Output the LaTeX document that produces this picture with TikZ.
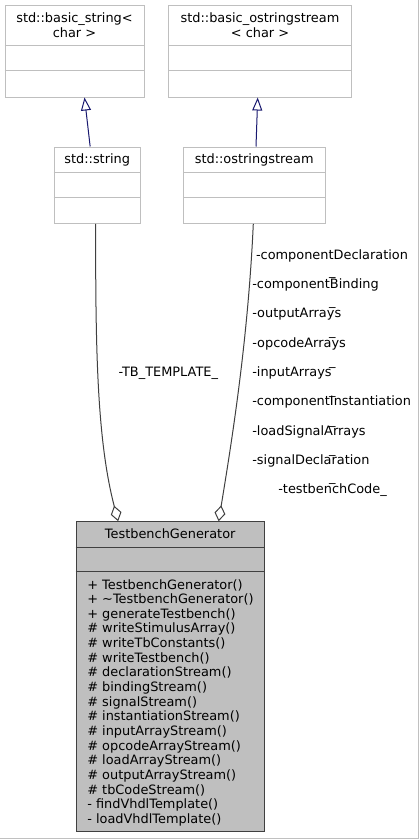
\documentclass[tikz,border=0pt]{standalone}
\usepackage{fontspec}
\setmainfont{DejaVu Sans}
\usetikzlibrary{arrows.meta,calc,positioning}

\definecolor{boxgrey}{HTML}{BFBFBF}
\definecolor{edgegrey}{HTML}{404040}
\definecolor{navyblue}{HTML}{191970}
\definecolor{framegrey}{HTML}{C0C0C0}

\newcommand{\dvs}{\fontsize{12.9}{15}\selectfont}

\begin{document}
\begin{tikzpicture}[x=1pt,y=-1pt,
  classbox/.style={draw=boxgrey, fill=white, line width=1pt, inner sep=0pt},
  mainbox/.style={draw=edgegrey, fill=boxgrey, line width=1pt, inner sep=0pt},
  txt/.style={font=\dvs, inner sep=0pt, outer sep=0pt},
  inherit/.style={draw=navyblue, line width=1pt, -{Triangle[open, length=13pt, width=10pt]}},
  aggreg/.style={draw=edgegrey, line width=1pt, -{Diamond[open, length=16pt, width=11pt]}}]

\useasboundingbox (0,0) rectangle (419,839);
\fill[white] (0,0) rectangle (419,839);
\draw[framegrey, line width=1pt] (0,838.5) -- (418.5,838.5) -- (418.5,0);

% class boxes
\node[classbox, minimum width=139pt, minimum height=91.3pt] (basestr) at (74.5,51.35) {};
\node[classbox, minimum width=182.6pt, minimum height=91.3pt] (baseoss) at (260,51.35) {};
\node[classbox, minimum width=86.3pt, minimum height=76.3pt] (str) at (97.15,185.15) {};
\node[classbox, minimum width=141.6pt, minimum height=76.3pt] (oss) at (254.5,185.15) {};
\node[mainbox, minimum width=188.3pt, minimum height=310pt] (tbgen) at (170.15,676.7) {};

\foreach \b/\d in {basestr/40, basestr/65.3, baseoss/40, baseoss/65.3, str/25.7, str/51.3, oss/25.7, oss/51.3}
  {\draw[boxgrey, line width=1pt] ($(\b.north west)+(0,\d)$) -- ($(\b.north east)+(0,\d)$);}
\foreach \d in {25.8, 50.6}
  {\draw[edgegrey, line width=1pt] ($(tbgen.north west)+(0,\d)$) -- ($(tbgen.north east)+(0,\d)$);}

% titles
\node[txt, anchor=base, align=center] (basestrT) at (74.5,37) {std::basic\_string<\\char >};
\node[txt, anchor=base, align=center] (baseossT) at (260,37) {std::basic\_ostringstream\\< char >};
\node[txt, anchor=base] (strT) at (97.2,163) {std::string};
\node[txt, anchor=base] (ossT) at (254.2,163) {std::ostringstream};
\node[txt, anchor=base] (tbgenT) at (170.2,538.8) {TestbenchGenerator};

% members
\foreach \m [count=\i] in {+ TestbenchGenerator(), + \textasciitilde TestbenchGenerator(),
  + generateTestbench(), \# writeStimulusArray(), \# writeTbConstants(), \# writeTestbench(),
  \# declarationStream(), \# bindingStream(), \# signalStream(), \# instantiationStream(),
  \# inputArrayStream(), \# opcodeArrayStream(), \# loadArrayStream(), \# outputArrayStream(),
  \# tbCodeStream(), - findVhdlTemplate(), - loadVhdlTemplate()}
  {\node[txt, anchor=base west] (m\i) at (87.3,{589+14.65*(\i-1)}) {\m};}

% inheritance
\draw[inherit] ([xshift=-7pt]str.north) -- ([xshift=10pt]basestr.south);
\draw[inherit] ([xshift=1.5pt]oss.north) -- ([xshift=-2.3pt]baseoss.south);

% aggregation
\draw[aggreg] ([xshift=-1.5pt]str.south) .. controls (95.5,350) and (97,440) .. ([xshift=-52pt]tbgen.north);
\draw[aggreg] ([xshift=-1.2pt]oss.south) .. controls (248,340) and (232,440) .. ([xshift=48.5pt]tbgen.north);

\node[txt, anchor=base] (tbtpl) at (168.3,376.4) {-TB\_TEMPLATE\_};
\foreach \lab/\xx/\yy [count=\i] in {-componentDeclaration/256/255, -componentBinding/252.3/283.3,
  -outputArrays/252.3/312.7, -opcodeArrays/252.3/342.7, -inputArrays/252.3/371.7,
  -componentInstantiation/252.3/400.7, -loadSignalArrays/252.3/430.7,
  -signalDeclaration/252.3/459.3, -testbenchCode\_/278.3/488.3}
  {\node[txt, anchor=base west] (lab\i) at (\xx,\yy+4.7) {\lab};}
\foreach \yy [count=\i] in {274, 304.3, 334.3, 364.3, 393.3, 422.7, 451.7, 480}
  {\node[txt, anchor=base] (bar\i) at (332.3,\yy+1.6) {\_};}
\end{tikzpicture}
\end{document}
